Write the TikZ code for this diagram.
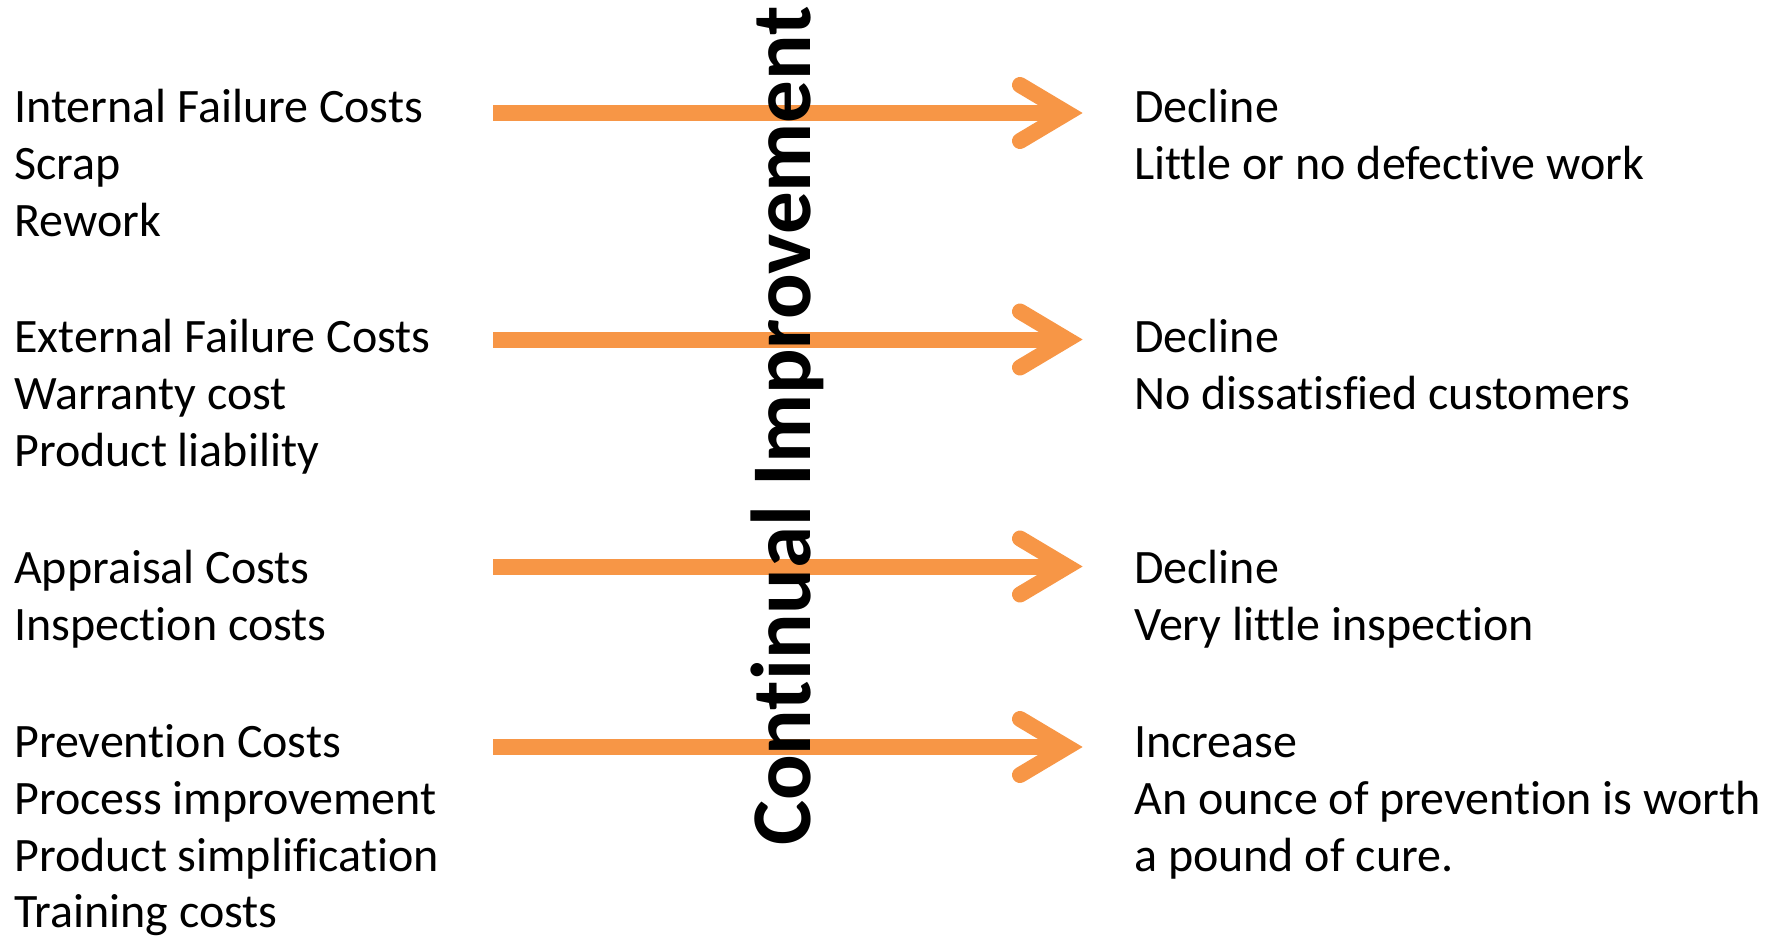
\documentclass[tikz,border=0pt]{standalone}
\usepackage{fontspec}
\setmainfont{Carlito}[Ligatures=NoCommon]
\usetikzlibrary{calc}
\definecolor{arroworange}{HTML}{F79646}
\tikzset{
  item/.style={anchor=base west, inner sep=0pt, font=\fontsize{48}{57}\selectfont},
  shaft/.style={draw=arroworange, line width=16pt, line cap=butt},
  barb/.style={draw=arroworange, line width=16pt, line cap=round, line join=miter},
  banner/.style={anchor=base west, inner sep=0pt, rotate=90,
    font=\fontsize{85}{100}\selectfont\bfseries},
}
\begin{document}
\begin{tikzpicture}[x=1pt, y=-1pt]
\useasboundingbox (0,0) rectangle (1767,936);

% arrows: shaft start and tip vertex for each cost category
\foreach \i/\y in {1/113, 2/339.5, 3/566.5, 4/747}{
  \coordinate (s\i) at (493,\y);
  \coordinate (t\i) at (1067,\y);
  \draw[shaft] (s\i) -- ($(t\i)+(-10,0)$);
  \draw[barb] ($(t\i)+(-47,-28)$) -- (t\i) -- ($(t\i)+(-47,28)$);
}

% cost categories (left column)
\node[item] (l1a) at (14,122.5) {Internal Failure Costs};
\node[item] (l1b) at (14,179.5) {Scrap};
\node[item] (l1c) at (14,236.5) {Rework};

\node[item] (l2a) at (14,352.5) {External Failure Costs};
\node[item] (l2b) at (14,409.5) {Warranty cost};
\node[item] (l2c) at (14,466.5) {Product liability};

\node[item] (l3a) at (14,583) {Appraisal Costs};
\node[item] (l3b) at (14,640) {Inspection costs};

\node[item] (l4a) at (14,757) {Prevention Costs};
\node[item] (l4b) at (14,814) {Process improvement};
\node[item] (l4c) at (14,871) {Product simplification};
\node[item] (l4d) at (14,927) {Training costs};

% outcomes (right column)
\node[item] (r1a) at (1134,122.5) {Decline};
\node[item] (r1b) at (1134,179.5) {Little or no defective work};

\node[item] (r2a) at (1134,352.5) {Decline};
\node[item] (r2b) at (1134,409.5) {No dissatisfied customers};

\node[item] (r3a) at (1134,583) {Decline};
\node[item] (r3b) at (1134,640) {Very little inspection};

\node[item] (r4a) at (1134,757) {Increase};
\node[item] (r4b) at (1134,814) {An ounce of prevention is worth};
\node[item] (r4c) at (1134,871) {a pound of cure.};

% vertical banner drawn over the arrows
\node[banner] (ci) at (810,846) {Continual Improvement};
\end{tikzpicture}
\end{document}
